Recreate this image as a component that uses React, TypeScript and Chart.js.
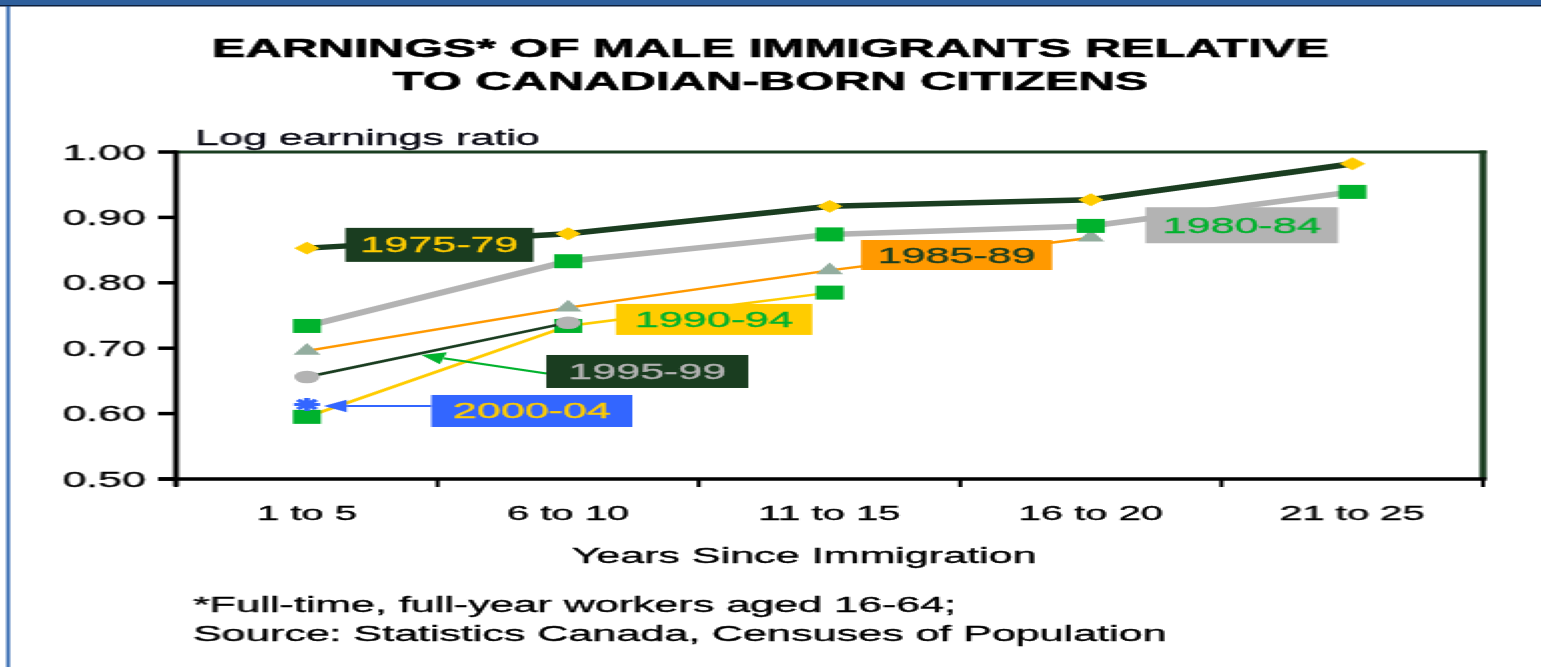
import React, { useEffect, useRef } from "react";
import { Chart, registerables } from "chart.js";

Chart.register(...registerables);

// ---------- data ----------
const categories = ["1 to 5", "6 to 10", "11 to 15", "16 to 20", "21 to 25"];
const cohort1975_79 = [0.853, 0.875, 0.917, 0.927, 0.982];
const cohort1980_84 = [0.734, 0.833, 0.874, 0.887, 0.939];
const cohort1985_89 = [0.696, 0.762, 0.819, 0.869, null];
const cohort1990_94 = [0.595, 0.734, 0.785, null, null];
const cohort1995_99 = [0.656, 0.739, null, null, null];
const cohort2000_04 = [0.614, null, null, null, null];
const yTickValues = [0.5, 0.6, 0.7, 0.8, 0.9, 1.0];

const titleLines = ["EARNINGS* OF MALE IMMIGRANTS RELATIVE", "TO CANADIAN-BORN CITIZENS"];
const yAxisTitle = "Log earnings ratio";
const xAxisTitle = "Years Since Immigration";
const footnotes = [
  "*Full-time, full-year workers aged 16-64;",
  "Source: Statistics Canada, Censuses of Population",
];

// ---------- styles ----------
const DARK_GREEN = "#1a3d20";
const YELLOW = "#ffcc00";
const GREEN = "#00b22d";
const GRAY = "#b3b3b3";
const ORANGE = "#ff9900";
const SAGE = "#93ad9f";
const BLUE = "#3366ff";
const FONT = '"Liberation Sans", Arial, sans-serif';

// label boxes: position in category units (u) and value units (v), size in px
const labelBoxes = [
  { text: "1975-79", u: 1.007, v: 0.858, w: 94, h: 34, fill: DARK_GREEN, color: YELLOW },
  { text: "1980-84", u: 4.077, v: 0.888, w: 96, h: 36, fill: GRAY, color: GREEN },
  { text: "1985-89", u: 2.986, v: 0.8425, w: 95.5, h: 30, fill: ORANGE, color: DARK_GREEN },
  { text: "1990-94", u: 2.058, v: 0.744, w: 98, h: 31, fill: YELLOW, color: GREEN },
  { text: "1995-99", u: 1.803, v: 0.6644, w: 101, h: 33, fill: DARK_GREEN, color: GRAY },
  { text: "2000-04", u: 1.361, v: 0.604, w: 100.5, h: 32, fill: BLUE, color: YELLOW },
];
const arrows = [
  { fromU: 1.417, fromV: 0.6613, toU: 0.938, toV: 0.6896, color: GREEN },
  { fromU: 0.976, fromV: 0.6116, toU: 0.564, toV: 0.6116, color: BLUE },
];

const INNER_W = 770;
const INNER_H = 667;
const STRETCH = 1541 / INNER_W;

function heavyText(ctx: CanvasRenderingContext2D, text: string, x: number, y: number, w: number) {
  ctx.fillText(text, x, y);
  if (w > 0) {
    ctx.lineWidth = w;
    ctx.strokeStyle = ctx.fillStyle as string;
    ctx.strokeText(text, x, y);
  }
}

const decorPlugin = {
  id: "decor",
  beforeDraw(chart: any) {
    const ctx = chart.ctx as CanvasRenderingContext2D;
    const W = chart.width;
    const H = chart.height;
    ctx.save();
    ctx.fillStyle = "#ffffff";
    ctx.fillRect(0, 0, W, H);
    // frame
    ctx.fillStyle = "#2e5f9c";
    ctx.fillRect(0, 0, W, 5);
    ctx.fillStyle = "#0d1f3c";
    ctx.fillRect(0, 5, W, 1.5);
    ctx.fillStyle = "#0f4fa3";
    ctx.fillRect(3.3, 6, 1.5, H);

    // title
    ctx.fillStyle = "#000";
    ctx.textAlign = "center";
    ctx.textBaseline = "alphabetic";
    ctx.font = `bold 25px ${FONT}`;
    heavyText(ctx, titleLines[0], 385, 57, 0.6);
    heavyText(ctx, titleLines[1], 385, 90, 0.6);

    // y axis title
    ctx.textAlign = "left";
    ctx.font = `21.5px ${FONT}`;
    ctx.fillStyle = "#0a0a14";
    heavyText(ctx, yAxisTitle, 97.5, 145, 0.35);

    // x axis title
    ctx.textAlign = "center";
    ctx.fillStyle = "#000";
    heavyText(ctx, xAxisTitle, 401.75, 563, 0.35);

    // footnotes
    ctx.textAlign = "left";
    heavyText(ctx, footnotes[0], 96.5, 612, 0.35);
    heavyText(ctx, footnotes[1], 96.5, 641, 0.35);
    ctx.restore();
  },
  beforeDatasetsDraw(chart: any) {
    const ctx = chart.ctx as CanvasRenderingContext2D;
    const xs = chart.scales.x;
    const ys = chart.scales.y;
    const { left, right, top, bottom } = chart.chartArea;
    const catW = (right - left) / categories.length;
    ctx.save();
    // top & right border (dark green)
    ctx.fillStyle = DARK_GREEN;
    ctx.fillRect(left, top - 1.5, right - left + 1.75, 3);
    ctx.fillRect(right - 1.75, top - 1.5, 3.5, bottom - top + 1.5);
    // y ticks + labels
    ctx.fillStyle = "#000";
    ctx.font = `21.5px ${FONT}`;
    ctx.textAlign = "right";
    ctx.textBaseline = "alphabetic";
    for (const v of yTickValues) {
      const y = ys.getPixelForValue(v);
      ctx.fillRect(left - 9, y - 1.75, 9, 3.5);
      heavyText(ctx, v.toFixed(2), 73, y + 7.5, 0.35);
    }
    // bottom axis
    ctx.fillStyle = "#000";
    ctx.fillRect(left - 9, bottom - 1.75, right - left + 10.75, 3.5);
    // left axis
    ctx.fillRect(left - 1.4, top - 1.5, 2.8, bottom - top + 9);
    // x ticks at category boundaries
    for (let i = 0; i <= categories.length; i++) {
      const bx = left + i * catW;
      ctx.fillRect(bx - 1, bottom, 2, 8);
    }
    // x labels
    ctx.textAlign = "center";
    ctx.font = `20px ${FONT}`;
    categories.forEach((c, i) => {
      heavyText(ctx, c, xs.getPixelForValue(i), 520, 0.35);
    });
    ctx.restore();
  },
  afterDatasetsDraw(chart: any) {
    const ctx = chart.ctx as CanvasRenderingContext2D;
    const ys = chart.scales.y;
    const { left, right } = chart.chartArea;
    const catW = (right - left) / categories.length;
    const px = (u: number) => left + u * catW;
    ctx.save();
    // arrows
    for (const a of arrows) {
      const x0 = px(a.fromU), y0 = ys.getPixelForValue(a.fromV);
      const x1 = px(a.toU), y1 = ys.getPixelForValue(a.toV);
      const ang = Math.atan2(y1 - y0, x1 - x0);
      const headL = 11.5, headW = 6.3;
      const bx = x1 - Math.cos(ang) * headL;
      const by = y1 - Math.sin(ang) * headL;
      ctx.strokeStyle = a.color;
      ctx.lineWidth = 2;
      ctx.beginPath();
      ctx.moveTo(x0, y0);
      ctx.lineTo(bx, by);
      ctx.stroke();
      ctx.fillStyle = a.color;
      ctx.beginPath();
      ctx.moveTo(x1, y1);
      ctx.lineTo(bx - Math.sin(ang) * headW, by + Math.cos(ang) * headW);
      ctx.lineTo(bx + Math.sin(ang) * headW, by - Math.cos(ang) * headW);
      ctx.closePath();
      ctx.fill();
    }
    // label boxes
    ctx.font = `21.5px ${FONT}`;
    ctx.textAlign = "center";
    ctx.textBaseline = "alphabetic";
    for (const b of labelBoxes) {
      const cx = px(b.u);
      const cy = ys.getPixelForValue(b.v);
      ctx.fillStyle = b.fill;
      ctx.fillRect(cx - b.w / 2, cy - b.h / 2, b.w, b.h);
      ctx.fillStyle = b.color;
      heavyText(ctx, b.text, cx, cy + 7.5, 0.35);
    }
    ctx.restore();
  },
};

function App() {
  const canvasRef = useRef<HTMLCanvasElement | null>(null);

  useEffect(() => {
    if (!canvasRef.current) return;
    const chart = new Chart(canvasRef.current, {
      type: "line",
      data: {
        labels: categories,
        datasets: [
          {
            label: "2000-04",
            data: cohort2000_04,
            borderColor: BLUE,
            borderWidth: 2,
            pointStyle: "star",
            pointRadius: 6.5,
            pointBorderColor: BLUE,
            pointBackgroundColor: BLUE,
            pointBorderWidth: 3,
          },
          {
            label: "1995-99",
            data: cohort1995_99,
            borderColor: DARK_GREEN,
            borderWidth: 2.5,
            pointStyle: "circle",
            pointRadius: 6.3,
            pointBorderColor: GRAY,
            pointBackgroundColor: GRAY,
            pointBorderWidth: 0,
          },
          {
            label: "1975-79",
            data: cohort1975_79,
            borderColor: DARK_GREEN,
            borderWidth: 5.5,
            pointStyle: "rectRot",
            pointRadius: 6.4,
            pointBorderColor: YELLOW,
            pointBackgroundColor: YELLOW,
            pointBorderWidth: 0,
          },
          {
            label: "1980-84",
            data: cohort1980_84,
            borderColor: GRAY,
            borderWidth: 5.5,
            pointStyle: "rect",
            pointRadius: 9.9,
            pointBorderColor: GREEN,
            pointBackgroundColor: GREEN,
            pointBorderWidth: 0,
          },
          {
            label: "1985-89",
            data: cohort1985_89,
            borderColor: ORANGE,
            borderWidth: 2.5,
            pointStyle: "triangle",
            pointRadius: 7.8,
            pointBorderColor: SAGE,
            pointBackgroundColor: SAGE,
            pointBorderWidth: 0,
          },
          {
            label: "1990-94",
            data: cohort1990_94,
            borderColor: YELLOW,
            borderWidth: 2.5,
            pointStyle: "rect",
            pointRadius: 9.9,
            pointBorderColor: GREEN,
            pointBackgroundColor: GREEN,
            pointBorderWidth: 0,
          },
        ],
      },
      options: {
        animation: false,
        responsive: true,
        maintainAspectRatio: false,
        events: [],
        layout: { padding: { left: 88, right: 29, top: 152, bottom: 188 } },
        plugins: {
          legend: { display: false },
          title: { display: false },
          tooltip: { enabled: false },
        },
        elements: { line: { tension: 0 } },
        scales: {
          x: { type: "category", offset: true, display: false },
          y: { type: "linear", min: 0.5, max: 1.0, display: false },
        },
      },
      plugins: [decorPlugin],
    });
    return () => chart.destroy();
  }, []);

  return (
    <div
      style={{
        position: "fixed",
        left: 0,
        top: 0,
        width: INNER_W,
        height: INNER_H,
        transform: `scaleX(${STRETCH})`,
        transformOrigin: "0 0",
        background: "#fff",
        overflow: "hidden",
      }}
    >
      <canvas ref={canvasRef} style={{ display: "block", width: "100%", height: "100%" }} />
    </div>
  );
}

export default App;
